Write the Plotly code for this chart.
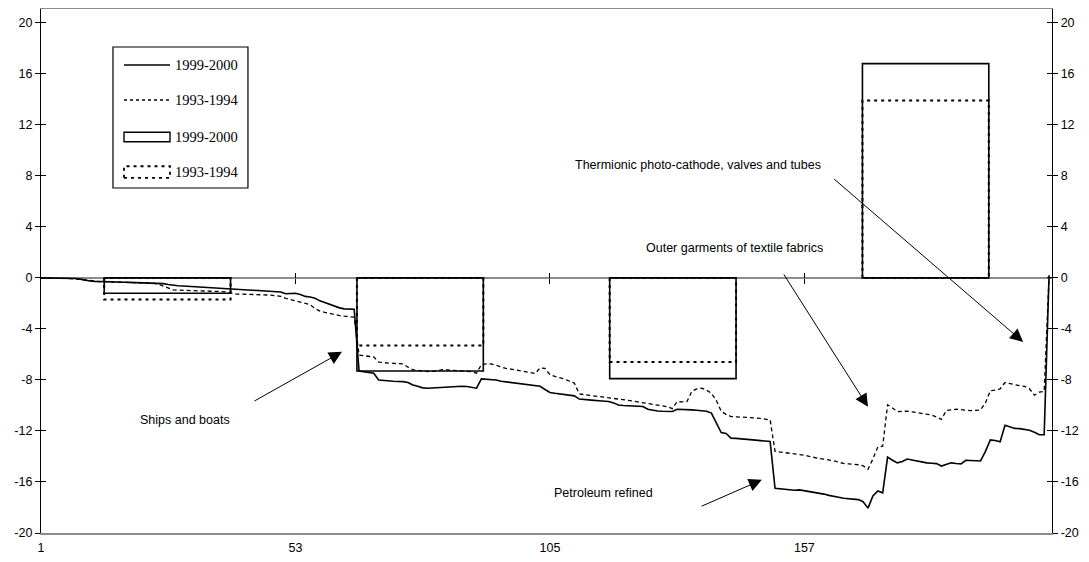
import plotly.graph_objects as go

# ---------------- data ----------------
idx = list(range(1, 208))

line_1999_2000 = [
    0, 0, 0, 0, 0, -0.01, -0.03, -0.05, -0.1, -0.18,
    -0.24, -0.27, -0.29, -0.3, -0.31, -0.32, -0.33, -0.34, -0.35, -0.36,
    -0.37, -0.38, -0.4, -0.42, -0.43, -0.45, -0.52, -0.6, -0.62, -0.64,
    -0.66, -0.68, -0.7, -0.72, -0.74, -0.76, -0.78, -0.8, -0.83, -0.85,
    -0.87, -0.9, -0.92, -0.95, -0.98, -1.0, -1.02, -1.05, -1.07, -1.1,
    -1.24, -1.22, -1.2, -1.3, -1.45, -1.5, -1.6, -1.8, -1.95, -2.05,
    -2.25, -2.35, -2.43, -2.44, -2.46, -7.3, -7.35, -7.4, -7.47, -8.0,
    -8.05, -8.08, -8.1, -8.12, -8.13, -8.2, -8.4, -8.5, -8.62, -8.65,
    -8.63, -8.57, -8.58, -8.56, -8.55, -8.53, -8.5, -8.52, -8.6, -8.65,
    -7.92, -7.93, -7.95, -8.0, -8.1, -8.15, -8.2, -8.28, -8.32, -8.38,
    -8.42, -8.46, -8.5, -8.75, -8.98, -9.05, -9.1, -9.15, -9.2, -9.25,
    -9.5, -9.55, -9.58, -9.6, -9.63, -9.66, -9.69, -9.8, -9.97, -10.0,
    -10.02, -10.04, -10.06, -10.08, -10.3, -10.4, -10.44, -10.46, -10.48, -10.48,
    -10.3, -10.3, -10.32, -10.35, -10.38, -10.4, -10.45, -10.6, -11.4, -12.12,
    -12.2, -12.56, -12.58, -12.6, -12.63, -12.67, -12.72, -12.76, -12.8, -12.83,
    -16.5, -16.55, -16.58, -16.6, -16.65, -16.62, -16.68, -16.74, -16.8, -16.88,
    -16.95, -17.05, -17.1, -17.2, -17.27, -17.3, -17.33, -17.38, -17.55, -18.05,
    -17.1, -16.7, -16.85, -14.05, -14.3, -14.5, -14.4, -14.2, -14.28, -14.35,
    -14.47, -14.5, -14.53, -14.56, -14.75, -14.6, -14.5, -14.55, -14.58, -14.3,
    -14.3, -14.35, -14.35, -13.6, -12.7, -12.75, -12.85, -11.55, -11.7, -11.8,
    -11.82, -11.88, -11.95, -12.1, -12.3, -12.3, 0.2,
]

line_1993_1994 = [
    0, 0, 0, 0, 0, -0.02, -0.05, -0.08, -0.12, -0.2,
    -0.25, -0.27, -0.29, -0.3, -0.31, -0.33, -0.34, -0.35, -0.37, -0.38,
    -0.39, -0.4, -0.42, -0.42, -0.5, -0.65, -0.8, -0.94, -0.96, -0.98,
    -1.0, -1.01, -1.02, -1.03, -1.04, -1.05, -1.06, -1.07, -1.1, -1.2,
    -1.27, -1.27, -1.28, -1.28, -1.28, -1.28, -1.3, -1.35, -1.4, -1.45,
    -1.6, -1.7, -1.75, -1.85, -1.95, -2.1, -2.4, -2.6, -2.7, -2.8,
    -2.85, -2.95, -3.0, -3.05, -3.08, -6.05, -6.1, -6.15, -6.2, -6.6,
    -6.66, -6.68, -6.7, -6.72, -6.74, -7.0, -7.2, -7.25, -7.3, -7.34,
    -7.33, -7.25, -7.2, -7.22, -7.25, -7.28, -7.3, -7.32, -7.35, -7.47,
    -6.8, -6.74, -6.75, -6.85, -7.0, -7.1, -7.15, -7.22, -7.3, -7.38,
    -7.42, -7.5, -7.05, -7.1, -7.6, -7.7, -7.8, -7.94, -8.1, -8.25,
    -9.1, -9.15, -9.2, -9.25, -9.28, -9.32, -9.35, -9.4, -9.45, -9.52,
    -9.58, -9.65, -9.72, -9.8, -9.87, -9.92, -9.97, -10.02, -10.1, -10.25,
    -9.7, -9.72, -9.7, -8.9, -8.7, -8.65, -8.8, -9.05, -9.6, -10.45,
    -10.7, -10.87, -10.88, -10.9, -10.92, -10.95, -10.98, -11.02, -11.08, -11.13,
    -13.6, -13.65, -13.68, -13.7, -13.75, -13.82, -13.9, -14.0, -14.1, -14.15,
    -14.2, -14.26, -14.35, -14.45, -14.55, -14.58, -14.6, -14.65, -14.73, -15.0,
    -14.2, -13.25, -13.2, -9.95, -10.2, -10.48, -10.46, -10.45, -10.5, -10.55,
    -10.62, -10.66, -10.75, -10.9, -11.1, -10.4, -10.33, -10.3, -10.33, -10.38,
    -10.4, -10.38, -10.35, -9.8, -8.85, -8.8, -8.7, -8.2, -8.3, -8.4,
    -8.45, -8.5, -8.7, -9.2, -8.95, -8.9, 0.1,
]

bar_categories = [0, 1, 2, 3]
bar_1999_2000 = [-1.2, -7.3, -7.9, 16.8]
bar_1993_1994 = [-1.7, -5.3, -6.6, 13.9]

x_tick_vals = [1, 53, 105, 157]
y_tick_vals = [-20, -16, -12, -8, -4, 0, 4, 8, 12, 16, 20]
y_tick_text = [str(v) for v in y_tick_vals]

# ---------------- styling constants ----------------
# the page body adds an 8px offset, so the figure is drawn 16px smaller
W, H = 1073, 546
ML, MR, MT, MB = 33, 29, 1, 21
X_RANGE = [1, 207.6]
Y_RANGE = [-20, 21.08]
BAR_WIDTH = 0.5
AX_FONT = dict(family="Liberation Sans, Arial, sans-serif", size=12.5, color="black")
LEG_FONT = dict(family="Liberation Serif, Times New Roman, serif", size=14.5, color="black")
GRAY = "#8c8c8c"

fig = go.Figure()

# bars (columns) on a secondary category axis
fig.add_trace(go.Bar(
    x=bar_categories, y=bar_1999_2000, width=BAR_WIDTH,
    marker=dict(color="rgba(0,0,0,0)", line=dict(color="black", width=1.6)),
    xaxis="x2", yaxis="y", showlegend=False, hoverinfo="skip",
))

# dotted outline bars for 1993-1994 built from the bar values
bx, by = [], []
for c, v in zip(bar_categories, bar_1993_1994):
    l, r = c - BAR_WIDTH / 2, c + BAR_WIDTH / 2
    bx += [l, l, r, r, l, None]
    by += [0, v, v, 0, 0, None]
fig.add_trace(go.Scatter(
    x=bx, y=by, mode="lines", xaxis="x2", yaxis="y",
    line=dict(color="black", width=2, dash="3px,4px"),
    showlegend=False, hoverinfo="skip",
))

# lines
fig.add_trace(go.Scatter(
    x=idx, y=line_1993_1994, mode="lines",
    line=dict(color="black", width=1.3, dash="4px,3px"),
    showlegend=False,
))
fig.add_trace(go.Scatter(
    x=idx, y=line_1999_2000, mode="lines",
    line=dict(color="black", width=1.6),
    showlegend=False,
))

# dummy traces so auxiliary axes are drawn
for xa, ya in [("x", "y2"), ("x", "y3"), ("x", "y4"), ("x3", "y"), ("x4", "y")]:
    fig.add_trace(go.Scatter(x=[None], y=[None], xaxis=xa, yaxis=ya,
                             showlegend=False, hoverinfo="skip"))

zero_pos = (0 - Y_RANGE[0]) / (Y_RANGE[1] - Y_RANGE[0])

fig.update_layout(
    width=W, height=H,
    margin=dict(l=ML, r=MR, t=MT, b=MB, autoexpand=False),
    paper_bgcolor="white", plot_bgcolor="white",
    showlegend=False,
    barmode="overlay",
    xaxis=dict(
        range=X_RANGE, tickvals=x_tick_vals, ticktext=[str(v) for v in x_tick_vals],
        ticks="outside", ticklen=2, tickcolor="rgba(0,0,0,0)",
        showline=True, linecolor=GRAY, linewidth=1.5, mirror=True,
        showgrid=False, zeroline=False, tickfont=AX_FONT, automargin=False,
    ),
    xaxis2=dict(range=[-0.5, 3.5], overlaying="x", visible=False, automargin=False),
    xaxis3=dict(range=X_RANGE, overlaying="x", anchor="free", position=zero_pos,
                tickvals=x_tick_vals[1:], ticks="outside", ticklen=5, tickcolor="black",
                showticklabels=False, showline=False, showgrid=False, zeroline=False,
                automargin=False),
    xaxis4=dict(range=X_RANGE, overlaying="x", anchor="free", position=zero_pos, side="top",
                tickvals=x_tick_vals[1:], ticks="outside", ticklen=5, tickcolor="black",
                showticklabels=False, showline=False, showgrid=False, zeroline=False,
                automargin=False),
    yaxis=dict(
        range=Y_RANGE, tickvals=y_tick_vals, ticktext=y_tick_text,
        ticks="outside", ticklen=5, tickcolor="black",
        showline=True, linecolor="black", linewidth=1.3,
        showgrid=False, zeroline=True, zerolinecolor=GRAY, zerolinewidth=1.6,
        tickfont=AX_FONT, automargin=False,
    ),
    yaxis2=dict(
        range=Y_RANGE, tickvals=y_tick_vals, ticktext=y_tick_text,
        overlaying="y", side="right", anchor="x",
        ticks="outside", ticklen=5, tickcolor="black",
        showline=True, linecolor="black", linewidth=1.3,
        showgrid=False, zeroline=False, tickfont=AX_FONT, automargin=False,
    ),
    yaxis3=dict(range=Y_RANGE, tickvals=y_tick_vals, overlaying="y", side="left", anchor="x",
                ticks="inside", ticklen=5, tickcolor="black", showticklabels=False,
                showline=False, showgrid=False, zeroline=False, automargin=False),
    yaxis4=dict(range=Y_RANGE, tickvals=y_tick_vals, overlaying="y", side="right", anchor="x",
                ticks="inside", ticklen=5, tickcolor="black", showticklabels=False,
                showline=False, showgrid=False, zeroline=False, automargin=False),
)

# ---------------- annotations ----------------
TXT_FONT = dict(family="Liberation Sans, Arial, sans-serif", size=12.5, color="black")
labels = [
    ("Ships and boats", 30.4, -11.13, "center"),
    ("Petroleum refined", 116.0, -16.85, "center"),
    ("Outer garments of textile fabrics", 161.2, 2.35, "right"),
    ("Thermionic photo-cathode, valves and tubes", 160.8, 8.86, "right"),
]
for t, x, y, anc in labels:
    fig.add_annotation(x=x, y=y, xref="x", yref="y", text=t, showarrow=False,
                       xanchor=anc, yanchor="middle", font=TXT_FONT)

arrows = [
    (62.5, -5.80, 44.3, -9.72),
    (148.3, -15.83, 135.7, -17.95),
    (170.0, -10.11, 152.6, 0.39),
    (201.7, -5.02, 162.8, 7.84),
]
for x, y, ax, ay in arrows:
    fig.add_annotation(x=x, y=y, ax=ax, ay=ay, xref="x", yref="y", axref="x", ayref="y",
                       text="", showarrow=True, arrowhead=2, arrowsize=2.6,
                       arrowwidth=1, arrowcolor="black", standoff=0)

# ---------------- custom legend ----------------
leg_rows = [0.8931, 0.8263, 0.7557, 0.6889]
sx0, sx1, tx = 0.0821, 0.1276, 0.1306
fig.add_shape(type="rect", xref="paper", yref="paper", x0=0.0712, x1=0.2047,
              y0=0.6584, y1=0.9275, line=dict(color="black", width=1.2),
              fillcolor="white", layer="above")
fig.add_shape(type="line", xref="paper", yref="paper", x0=sx0, x1=sx1,
              y0=leg_rows[0], y1=leg_rows[0], line=dict(color="black", width=1.4))
fig.add_shape(type="line", xref="paper", yref="paper", x0=sx0, x1=sx1,
              y0=leg_rows[1], y1=leg_rows[1], line=dict(color="black", width=1.4, dash="3px,3px"))
hh = 0.009
fig.add_shape(type="rect", xref="paper", yref="paper", x0=sx0, x1=sx1,
              y0=leg_rows[2] - hh, y1=leg_rows[2] + hh, line=dict(color="black", width=1.4))
fig.add_shape(type="rect", xref="paper", yref="paper", x0=sx0, x1=sx1,
              y0=leg_rows[3] - hh - 0.002, y1=leg_rows[3] + hh + 0.002,
              line=dict(color="black", width=1.8, dash="3px,4px"))
for r, t in zip(leg_rows, ["1999-2000", "1993-1994", "1999-2000", "1993-1994"]):
    fig.add_annotation(x=tx, y=r, xref="paper", yref="paper", text=t, showarrow=False,
                       xanchor="left", yanchor="middle", font=LEG_FONT)

fig.write_html("out.html")
